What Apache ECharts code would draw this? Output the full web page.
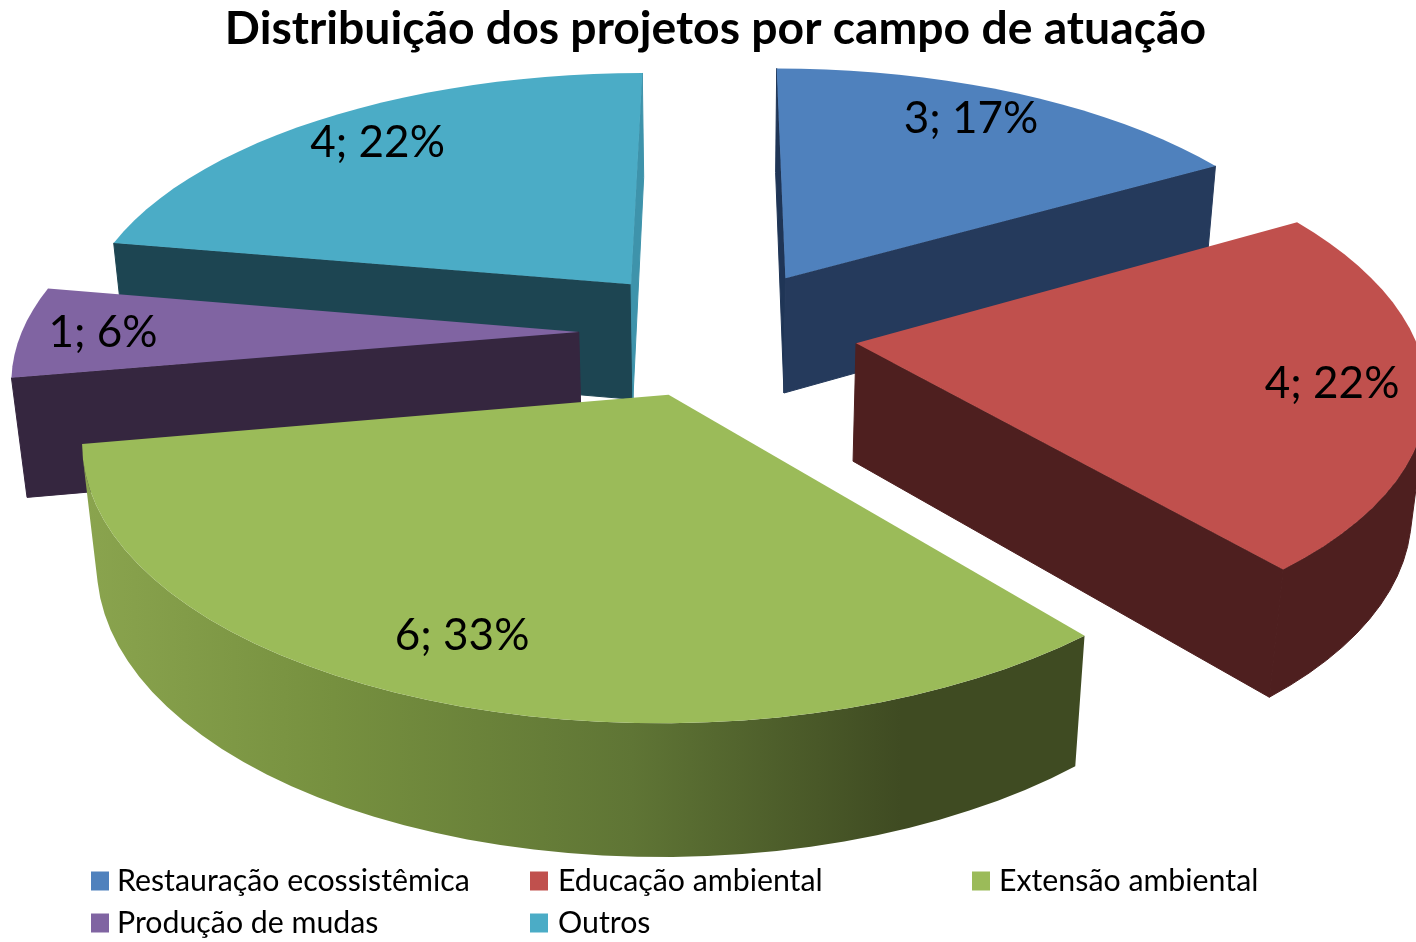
<!DOCTYPE html>
<html><head><meta charset="utf-8">
<style>html,body{margin:0;padding:0;background:#fff}#c{width:1416px;height:942px}</style>
<script src="https://cdn.jsdelivr.net/npm/echarts@6/dist/echarts.min.js"></script>
</head><body><div id="c"></div>
<script>
const chartTitle = 'Distribuição dos projetos por campo de atuação';
const categories = ['Restauração ecossistêmica','Educação ambiental','Extensão ambiental','Produção de mudas','Outros'];
const values = [3,4,6,1,4];
const topColors = ['#4F81BD','#C0504D','#9BBB59','#8064A2','#4BACC6'];
const wallColors = ['#253A5C','#4E1F1F',null,'#35263F','#1D4552'];
const startCutColors = ['#1F3556','#4E1F1F','#3F4B22','#35263F','#1D4552'];
const endCutColors = ['#253A5C','#4E1F1F','#3F4B22','#35263F','#3E93AB'];
const drawOrder = [1,4,5,3,2];
const labelNudgeX = [-8,10,-15,-19,0];
const labelNudgeY = [-5,3,-2,1,-2];

// oblique perspective of the pie
const VIEW = {x0:718,y0:332,s:557,a:257,p:0.153,q:0.022,b:120,explode:0.25,labelR:0.82};
const total = values.reduce((m,v)=>m+v,0);
const greenWall = {type:'linear',x:85,y:0,x2:1080,y2:0,global:true,colorStops:[
  {offset:0,color:'#8AA44E'},{offset:0.25,color:'#76903F'},{offset:0.55,color:'#5F7535'},{offset:0.82,color:'#3F4B22'},{offset:1,color:'#3F4B22'}]};

function project(u,v,z){
  const w = 1+VIEW.p*v+VIEW.q*z;
  return [VIEW.x0+VIEW.s*u/w, VIEW.y0+(-VIEW.a*v+VIEW.b*z)/w];
}
function area(pts){let s=0;for(let i=0;i<pts.length;i++){const a=pts[i],b=pts[(i+1)%pts.length];s+=a[0]*b[1]-b[0]*a[1];}return s;}

function sliceItem(idx,value){
  let before=0; for(let i=0;i<idx;i++) before+=values[i];
  const a0=before/total*2*Math.PI, a1=(before+value)/total*2*Math.PI, mid=(a0+a1)/2;
  const cx=VIEW.explode*Math.sin(mid), cy=VIEW.explode*Math.cos(mid);
  const rim=(a,z)=>project(cx+Math.sin(a),cy+Math.cos(a),z);
  const steps=Math.max(8,Math.round((a1-a0)/(Math.PI/60)));
  const ang=[];for(let i=0;i<=steps;i++)ang.push(a0+(a1-a0)*i/steps);
  const apexT=project(cx,cy,0), apexB=project(cx,cy,1);
  const children=[];
  const poly=(pts,fill,stroke)=>children.push({type:'polygon',shape:{points:pts},style:{fill:fill,stroke:stroke||null,lineWidth:stroke?1:0}});
  // radial cut faces
  const startFace=[apexT,rim(a0,0),rim(a0,1),apexB];
  const endFace=[apexT,rim(a1,0),rim(a1,1),apexB];
  if(area(startFace)<0) poly(startFace,startCutColors[idx],startCutColors[idx]);
  if(area(endFace)>0) poly(endFace,endCutColors[idx],endCutColors[idx]);
  // outer wall, front-facing run only
  const upper=[],lower=[];
  for(let i=0;i<steps;i++){
    const q=[rim(ang[i],0),rim(ang[i+1],0),rim(ang[i+1],1),rim(ang[i],1)];
    if(area(q)<0){ if(!upper.length){upper.push(q[0]);lower.push(q[3]);} upper.push(q[1]);lower.push(q[2]); }
  }
  if(upper.length) poly(upper.concat(lower.reverse()),wallColors[idx]||greenWall,wallColors[idx]);
  // top face
  poly([apexT].concat(ang.map(a=>rim(a,0))),topColors[idx]);
  // label
  const lp=project(cx+VIEW.labelR*Math.sin(mid),cy+VIEW.labelR*Math.cos(mid),0);
  children.push({type:'text',style:{text:value+'; '+Math.round(value/total*100)+'%',x:lp[0]+labelNudgeX[idx],y:lp[1]+labelNudgeY[idx],align:'center',verticalAlign:'middle',
    font:'44px Lato, "Open Sans", sans-serif',fill:'#000'}});
  return {type:'group',children:children};
}

const chart = echarts.init(document.getElementById('c'),null,{renderer:'canvas'});
const legendBase = {orient:'vertical',icon:'rect',itemWidth:18,itemHeight:19,itemGap:12,selectedMode:false,padding:0};
const legendText = (pad)=>({fontFamily:'Lato, sans-serif',fontSize:30.3,color:'#000',padding:[0,0,0,pad]});
chart.setOption({
  animation:false,
  backgroundColor:'#fff',
  title:{text:chartTitle,left:710.5,top:1,textAlign:'center',textStyle:{fontFamily:'Lato, sans-serif',fontWeight:'bold',fontSize:46.3,color:'#000'}},
  legend:[
    Object.assign({},legendBase,{left:91,top:866,textStyle:legendText(3),data:[categories[0],categories[3]]}),
    Object.assign({},legendBase,{left:530,top:866,textStyle:legendText(5),data:[categories[1],categories[4]]}),
    Object.assign({},legendBase,{left:972,top:866,textStyle:legendText(4),data:[categories[2]]})
  ],
  series:categories.map((name,idx)=>({
    type:'custom',name:name,coordinateSystem:'none',z:drawOrder[idx],silent:true,
    itemStyle:{color:topColors[idx]},
    data:[[values[idx]]],
    renderItem:(params,api)=>sliceItem(idx,api.value(0))
  }))
});
</script></body></html>
